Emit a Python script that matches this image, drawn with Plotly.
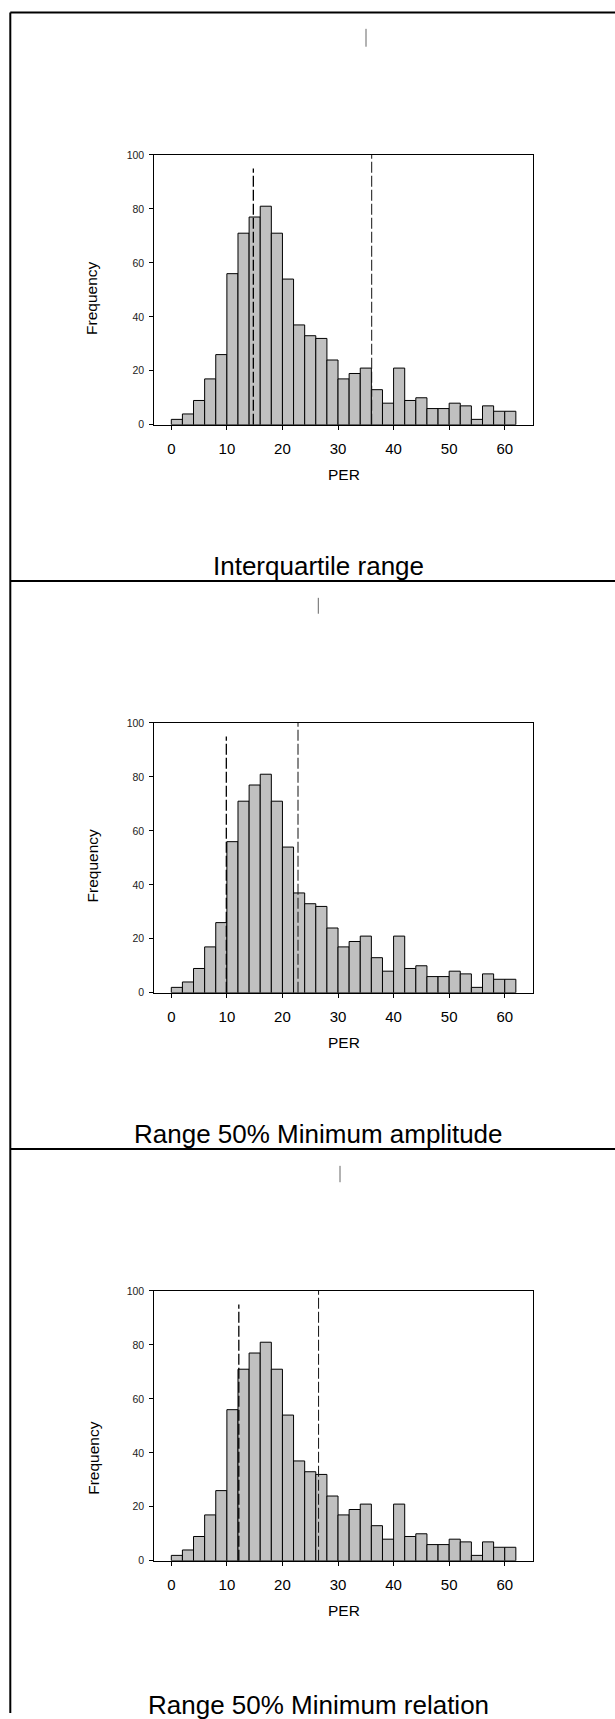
import plotly.graph_objects as go

# ---------------- data ----------------
bin_left = list(range(0, 62, 2))
bin_width = 2
counts = [2, 4, 9, 17, 26, 56, 71, 77, 81, 71, 54, 37, 33, 32, 24, 17,
          19, 21, 13, 8, 21, 9, 10, 6, 6, 8, 7, 2, 7, 5, 5]
panel_titles = ["Interquartile range", "Range 50% Minimum amplitude",
                "Range 50% Minimum relation"]
cut_low = [14.76, 9.9, 12.15]
cut_high = [36.06, 22.8, 26.5]
low_line_top = 95
x_ticks = [0, 10, 20, 30, 40, 50, 60]
y_ticks = [0, 20, 40, 60, 80, 100]
x_title = "PER"
y_title = "Frequency"

# ---------------- layout geometry (pixels) ----------------
W, H = 615, 1719
plot_left, plot_right = 154.3, 533.3
plot_tops = [150, 722, 1294]
plot_h = 271.7
x_range = [-3.06, 65.14]
title_y = [564, 1136, 1711]
freq_pos = [(92, 295), (92.5, 866), (94, 1462)]
per_y_off = 50.5   # below baseline
marks = [(366, 23, 41), (318.3, 596, 612), (340, 1168, 1184.5)]
border_x = 10.3
border_top = 6.5
separators = [579, 1151]

FONT = "Liberation Sans, Arial, sans-serif"


def px(x):
    return x / W


def py(y):
    return 1 - y / H


fig = go.Figure()
layout = dict(width=W, height=H, margin=dict(l=0, r=0, t=0, b=0),
              paper_bgcolor="white", plot_bgcolor="white", showlegend=False,
              font=dict(family=FONT, color="black"))
shapes = []
annotations = []

centers = [l + bin_width / 2 for l in bin_left]

for i in range(3):
    sfx = "" if i == 0 else str(i + 1)
    xa, ya = "x" + sfx, "y" + sfx
    fig.add_trace(go.Bar(x=centers, y=counts, width=bin_width,
                         marker=dict(color="#c0c0c0",
                                     line=dict(color="black", width=1)),
                         xaxis=xa, yaxis=ya, hoverinfo="x+y"))
    top = plot_tops[i]
    bot = top + plot_h
    layout["xaxis" + sfx] = dict(
        domain=[px(plot_left), px(plot_right)], range=x_range,
        anchor=ya, tickmode="array", tickvals=x_ticks,
        ticks="outside", ticklen=4, tickcolor="black", tickwidth=1,
        showline=True, linecolor="black", linewidth=1, mirror=True,
        showgrid=False, zeroline=False,
        tickfont=dict(size=15, color="black", family=FONT),
        ticklabelstandoff=6, fixedrange=True)
    layout["yaxis" + sfx] = dict(
        domain=[py(bot), py(top)], range=[0, 100], anchor=xa,
        tickmode="array", tickvals=y_ticks,
        ticks="outside", ticklen=4, tickcolor="black", tickwidth=1,
        showline=True, linecolor="black", linewidth=1, mirror=True,
        showgrid=False, zeroline=False,
        tickfont=dict(size=10.5, color="#222", family=FONT),
        ticklabelstandoff=3, fixedrange=True)
    # dashed cut lines
    shapes.append(dict(type="line", xref=xa, yref=ya,
                       x0=cut_low[i], x1=cut_low[i], y0=0, y1=low_line_top,
                       line=dict(color="black", width=1.3, dash="11px,3px")))
    shapes.append(dict(type="line", xref=xa, yref=ya,
                       x0=cut_high[i], x1=cut_high[i], y0=0, y1=100,
                       line=dict(color="#111", width=1, dash="11px,3px")))
    # axis titles
    annotations.append(dict(text=y_title, xref="paper", yref="paper",
                            x=px(freq_pos[i][0]), y=py(freq_pos[i][1]),
                            textangle=-90, showarrow=False,
                            xanchor="center", yanchor="middle",
                            font=dict(size=15.5, color="black", family=FONT)))
    annotations.append(dict(text=x_title, xref="paper", yref="paper",
                            x=px((plot_left + plot_right) / 2),
                            y=py(bot + per_y_off), showarrow=False,
                            xanchor="center", yanchor="middle",
                            font=dict(size=15.5, color="black", family=FONT)))
    # panel title
    annotations.append(dict(text=panel_titles[i], xref="paper", yref="paper",
                            x=px(318), y=py(title_y[i]), showarrow=False,
                            xanchor="center", yanchor="middle",
                            font=dict(size=26, color="black", family=FONT)))
    # small mark at top of panel
    mx, my0, my1 = marks[i]
    shapes.append(dict(type="line", xref="paper", yref="paper",
                       x0=px(mx), x1=px(mx), y0=py(my0), y1=py(my1),
                       line=dict(color="#666", width=1)))

# outer frame and separators
shapes.append(dict(type="line", xref="paper", yref="paper",
                   x0=px(border_x), x1=px(border_x), y0=py(border_top), y1=0,
                   line=dict(color="black", width=2)))
for yy in [border_top] + separators:
    shapes.append(dict(type="line", xref="paper", yref="paper",
                       x0=px(border_x), x1=1, y0=py(yy), y1=py(yy),
                       line=dict(color="black", width=2)))

layout["shapes"] = shapes
layout["annotations"] = annotations
fig.update_layout(**layout)
fig.write_html(
    "out.html",
    config={"displayModeBar": False},
    post_script="document.body.style.margin='0';"
                "document.body.style.overflow='hidden';")
